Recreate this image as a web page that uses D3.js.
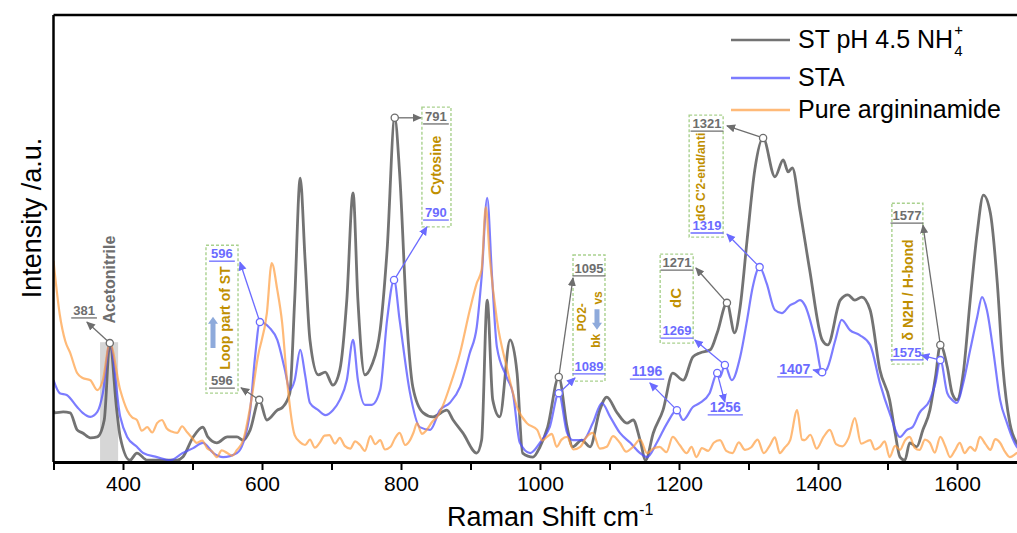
<!DOCTYPE html>
<html>
<head>
<meta charset="utf-8">
<script src="https://cdn.jsdelivr.net/npm/d3@7"></script>
<style>
  body { margin: 0; background: #fff; }
  svg { display: block; font-family: "Liberation Sans", Arial, sans-serif; }
</style>
</head>
<body>
<svg id="chart"></svg>
<script>
// Raman spectra, [shift cm-1, intensity a.u.]
const stSpectrum = [[300,11.5],[302,11.0],[314,11.2],[324,11.0],[334,7.2],[342,6.5],[353,5.4],[363,5.6],[373,9.4],[381,26.6],[391,11.6],[396,5.6],[410,0.4],[420,2.0],[435,0.4],[453,0.4],[478,0.4],[486,1.1],[501,5.6],[515,7.8],[522,5.6],[535,4.3],[550,5.6],[564,5.6],[573,4.9],[583,7.2],[596,13.9],[607,9.4],[622,11.6],[630,12.3],[640,15.4],[647,36.2],[655,63.5],[662,45.2],[669,27.3],[681,19.5],[691,20.1],[702,17.2],[712,20.6],[722,36.2],[731,60.2],[738,36.2],[748,19.5],[758,21.7],[770,29.5],[780,47.4],[791,77.0],[798,64.7],[809,30.2],[817,16.8],[832,11.0],[846,10.1],[866,11.6],[875,9.4],[889,6.5],[909,2.0],[916,4.9],[924,36.2],[932,13.9],[942,10.1],[957,27.3],[967,19.9],[975,2.0],[990,1.1],[1000,3.4],[1011,7.8],[1027,19.0],[1039,7.8],[1047,3.4],[1060,4.9],[1072,3.4],[1086,11.6],[1096,14.5],[1111,11.0],[1125,8.7],[1134,9.4],[1144,4.9],[1152,0.4],[1163,6.5],[1177,11.6],[1191,19.9],[1206,18.3],[1220,23.5],[1230,24.4],[1245,25.1],[1255,28.9],[1269,35.6],[1280,28.9],[1288,34.7],[1298,49.7],[1309,65.3],[1321,72.5],[1338,63.8],[1350,67.6],[1357,64.9],[1363,65.8],[1374,56.4],[1388,43.0],[1406,27.3],[1414,26.2],[1432,36.2],[1443,37.4],[1453,36.2],[1463,36.9],[1475,34.0],[1489,20.6],[1503,13.9],[1511,6.5],[1518,1.1],[1525,0.4],[1532,4.3],[1542,3.4],[1551,7.2],[1561,11.6],[1569,19.0],[1576,26.2],[1586,21.3],[1593,15.4],[1600,13.9],[1609,19.9],[1619,36.2],[1629,51.2],[1638,59.7],[1648,55.7],[1658,40.0],[1666,21.3],[1676,8.7],[1686,4.3],[1699,2.7]];

const staSpectrum = [[300,18.3],[309,15.4],[319,15.0],[334,12.3],[342,11.0],[353,10.1],[363,11.2],[371,15.4],[381,26.6],[396,10.1],[406,5.6],[420,3.4],[429,2.0],[449,1.1],[468,0.4],[486,2.0],[501,3.1],[515,4.3],[530,2.0],[544,1.1],[564,2.0],[573,4.3],[583,11.6],[590,23.5],[597,31.3],[611,30.0],[622,27.3],[633,20.6],[640,16.1],[647,18.3],[655,25.1],[662,19.5],[669,13.2],[681,11.6],[691,10.5],[702,11.6],[712,13.9],[722,18.3],[731,27.3],[738,18.3],[748,12.8],[758,12.8],[770,16.1],[780,31.8],[790,40.7],[798,31.8],[813,15.4],[827,7.8],[842,7.2],[856,11.6],[870,13.2],[885,16.8],[899,24.4],[909,30.2],[916,41.4],[924,59.1],[931,41.4],[938,25.7],[952,19.0],[961,15.4],[971,4.3],[986,2.0],[1000,4.3],[1014,7.8],[1027,15.4],[1039,6.5],[1047,4.9],[1062,4.9],[1076,8.7],[1089,13.2],[1101,10.1],[1115,6.5],[1130,4.3],[1144,2.0],[1154,1.1],[1168,4.3],[1183,8.7],[1197,11.6],[1206,9.4],[1220,12.3],[1230,13.2],[1244,15.4],[1255,19.9],[1259,19.0],[1266,21.7],[1276,18.3],[1288,23.5],[1298,31.8],[1306,39.1],[1316,43.6],[1326,40.0],[1338,34.0],[1348,33.3],[1360,35.1],[1367,35.6],[1374,36.2],[1381,35.1],[1396,27.3],[1406,20.1],[1412,20.6],[1425,27.3],[1434,31.8],[1446,29.5],[1460,28.4],[1475,26.2],[1489,17.7],[1503,11.0],[1518,5.6],[1528,7.2],[1536,7.8],[1546,11.0],[1561,13.9],[1569,17.7],[1576,22.8],[1586,15.4],[1593,13.9],[1600,13.2],[1609,17.7],[1619,25.1],[1629,32.4],[1636,36.9],[1643,34.0],[1652,25.1],[1662,13.9],[1672,8.7],[1681,4.9],[1686,3.4],[1699,2.2]];

const argSpectrum = [[300,45.0],[309,33.0],[317,27.0],[324,24.4],[334,19.9],[342,18.8],[353,18.3],[363,16.1],[371,18.3],[381,26.6],[396,16.1],[406,11.6],[413,10.0],[420,9.4],[427,7.0],[435,7.8],[442,6.6],[449,8.7],[456,9.4],[463,7.5],[470,6.8],[478,6.5],[485,8.0],[492,6.7],[499,5.5],[506,4.3],[514,4.8],[521,3.1],[528,2.4],[535,1.1],[542,2.6],[550,2.0],[557,1.4],[564,2.7],[573,4.9],[583,12.3],[594,23.5],[607,33.3],[614,44.5],[622,38.5],[629,31.1],[636,18.3],[647,6.0],[655,4.4],[662,3.8],[669,5.0],[676,3.2],[683,4.3],[690,5.9],[697,6.0],[705,4.1],[712,5.4],[719,3.6],[727,3.0],[734,4.6],[741,3.8],[748,2.5],[756,5.8],[763,4.0],[770,4.9],[777,2.8],[785,3.4],[791,5.2],[798,6.5],[806,3.8],[813,4.9],[818,6.6],[823,8.7],[830,6.3],[837,7.2],[845,9.0],[852,10.1],[860,12.5],[870,16.8],[885,24.4],[899,34.0],[909,40.0],[916,43.0],[922,57.0],[928,45.2],[938,31.8],[952,21.3],[967,12.3],[981,8.7],[996,7.2],[1003,4.8],[1010,5.6],[1017,6.3],[1024,3.4],[1031,5.0],[1039,5.6],[1048,2.8],[1058,3.4],[1067,5.6],[1076,6.5],[1086,3.0],[1096,3.4],[1105,5.8],[1115,4.3],[1124,2.3],[1134,3.4],[1144,5.0],[1154,2.0],[1163,3.0],[1172,3.4],[1182,2.2],[1191,5.6],[1201,3.8],[1211,2.0],[1218,3.4],[1225,1.1],[1233,3.1],[1242,2.5],[1250,4.3],[1259,4.9],[1268,2.5],[1277,2.0],[1286,4.4],[1295,2.7],[1304,3.3],[1313,5.0],[1322,2.0],[1331,3.8],[1338,5.5],[1345,2.0],[1352,3.2],[1360,4.9],[1370,11.6],[1377,5.0],[1381,4.9],[1389,6.1],[1398,3.0],[1408,5.6],[1417,7.2],[1426,4.0],[1435,3.5],[1444,5.4],[1453,9.8],[1462,4.1],[1475,4.9],[1482,2.8],[1489,3.4],[1496,4.6],[1503,1.1],[1511,3.6],[1518,2.7],[1525,4.8],[1532,5.6],[1539,3.2],[1546,2.7],[1554,5.0],[1561,4.3],[1568,2.1],[1576,5.6],[1583,3.6],[1590,1.1],[1597,2.6],[1604,4.3],[1611,2.0],[1619,3.4],[1626,2.5],[1633,5.6],[1641,4.0],[1648,2.7],[1655,5.1],[1662,4.3],[1669,2.3],[1676,1.1],[1686,2.0],[1699,3.0]];

const seriesNames = ["ST pH 4.5 NH", "STA", "Pure argininamide"];
const xTickValues = d3.range(300, 1701, 100);
const xTickLabels = [400, 600, 800, 1000, 1200, 1400, 1600];

const W = 1017, H = 533;
const svg = d3.select("#chart").attr("width", W).attr("height", H);

const x = d3.scaleLinear().domain([300, 1700]).range([53.5, 1026.5]);
const y = d3.scaleLinear().domain([0, 100]).range([462, 15]);

const GRAY = "#5a5a5a", BLUE = "#5050ff", ORANGE = "#ff9d3f";
const LGRAY = "#6e6e6e", LBLUE = "#6b6bff", GOLD = "#bf8f00", BOXC = "#a9d18e", ICON = "#8eaadb";

// markers for arrows
const defs = svg.append("defs");
[["ag", LGRAY], ["ab", LBLUE]].forEach(([id, c]) => {
  defs.append("marker").attr("id", id).attr("viewBox", "0 -5 10 10")
    .attr("refX", 9).attr("refY", 0).attr("markerWidth", 9).attr("markerHeight", 9)
    .attr("markerUnits", "userSpaceOnUse").attr("orient", "auto")
    .append("path").attr("d", "M0,-4.5L10,0L0,4.5Z").attr("fill", c);
});
defs.append("clipPath").attr("id", "plotclip").append("rect")
  .attr("x", x(300)).attr("y", y(100)).attr("width", x(1700) - x(300)).attr("height", y(0) - y(100));

// acetonitrile band
svg.append("rect").attr("x", x(367)).attr("width", x(393) - x(367))
  .attr("y", y(26.8)).attr("height", y(0) - y(26.8)).attr("fill", "#d6d6d6");

const line = d3.line().x(d => x(d[0])).y(d => y(d[1])).curve(d3.curveMonotoneX);
const curves = svg.append("g").attr("clip-path", "url(#plotclip)");
[[stSpectrum, GRAY, 2.8, 0.85], [staSpectrum, BLUE, 2.2, 0.75], [argSpectrum, ORANGE, 2.2, 0.7]]
  .forEach(([d, c, w, o]) => {
    curves.append("path").datum(d).attr("fill", "none").attr("stroke", c)
      .attr("stroke-width", w).attr("stroke-opacity", o).attr("stroke-linejoin", "round").attr("d", line);
  });

// frame + axis
const xAxis = d3.axisBottom(x).tickValues(xTickValues).tickSize(8).tickSizeOuter(0).tickPadding(6)
  .tickFormat(d => xTickLabels.includes(d) ? d : "");
const gx = svg.append("g").attr("transform", `translate(0,${y(0)})`).call(xAxis);
gx.select(".domain").attr("stroke-width", 3);
gx.selectAll(".tick line").attr("stroke-width", 2);
gx.selectAll(".tick text").attr("font-size", 21).attr("font-family", "Liberation Sans, Arial, sans-serif").attr("fill", "#000");
svg.append("line").attr("x1", x(300)).attr("x2", x(300)).attr("y1", y(100)).attr("y2", y(0))
  .attr("stroke", "#000").attr("stroke-width", 2.5);
svg.append("line").attr("x1", x(300)).attr("x2", x(1700)).attr("y1", y(100)).attr("y2", y(100))
  .attr("stroke", "#000").attr("stroke-width", 2.5);

// axis titles
const xt = svg.append("text").attr("x", 447).attr("y", 526).attr("font-size", 27).attr("fill", "#000");
xt.append("tspan").text("Raman Shift cm");
xt.append("tspan").text("-1").attr("font-size", 16).attr("dy", -11);
svg.append("text").attr("transform", "translate(41,218) rotate(-90)").attr("text-anchor", "middle")
  .attr("font-size", 27).attr("fill", "#000").text("Intensity /a.u.");

// legend
const leg = svg.append("g");
[[GRAY, 40, 0.85], [BLUE, 78, 0.75], [ORANGE, 110, 0.7]].forEach(([c, ly, o], i) => {
  leg.append("line").attr("x1", 731).attr("x2", 790).attr("y1", ly).attr("y2", ly)
    .attr("stroke", c).attr("stroke-width", 2.5).attr("stroke-opacity", o);
  const t = leg.append("text").attr("x", 798).attr("y", ly + 8).attr("font-size", 25).attr("fill", "#000")
    .text(seriesNames[i]);
  if (i === 0) {
    const tw = t.node().getComputedTextLength();
    leg.append("text").attr("x", 798 + tw + 1).attr("y", ly + 16).attr("font-size", 15).text("4");
    leg.append("text").attr("x", 798 + tw + 1).attr("y", ly - 5).attr("font-size", 15).text("+");
  }
});

// annotation helpers
const ann = svg.append("g");
function numLabel(t, xv, yv, c, fs = 13) {
  const el = ann.append("text").attr("x", x(xv)).attr("y", y(yv)).attr("text-anchor", "middle")
    .attr("font-size", fs).attr("font-weight", "bold").attr("fill", c).text(t);
  const w = el.node().getComputedTextLength();
  ann.append("line").attr("x1", x(xv) - w / 2 - 2).attr("x2", x(xv) + w / 2 + 2)
    .attr("y1", y(yv) + 3).attr("y2", y(yv) + 3).attr("stroke", c).attr("stroke-width", 1.3);
}
function rotText(t, xv, yv, c, fs = 14) {
  ann.append("text").attr("transform", `translate(${x(xv)},${y(yv)}) rotate(-90)`)
    .attr("text-anchor", "middle").attr("dy", "0.35em").attr("font-size", fs)
    .attr("font-weight", "bold").attr("fill", c).text(t);
}
function box(x0, x1, y0, y1) {
  ann.append("rect").attr("x", x(x0)).attr("y", y(y0)).attr("width", x(x1) - x(x0))
    .attr("height", y(y1) - y(y0)).attr("fill", "none").attr("stroke", BOXC)
    .attr("stroke-width", 1.4).attr("stroke-dasharray", "3,2");
}
function pointer(series, xv, to, c, mk) {
  const p = series.find(d => d[0] === xv);
  ann.append("line").attr("x1", x(p[0])).attr("y1", y(p[1])).attr("x2", x(to[0])).attr("y2", y(to[1]))
    .attr("stroke", c).attr("stroke-width", 1.3).attr("marker-end", `url(#${mk})`);
  ann.append("circle").attr("cx", x(p[0])).attr("cy", y(p[1])).attr("r", 3.6)
    .attr("fill", "#fff").attr("stroke", c).attr("stroke-width", 1.3);
}
function blockArrow(xv, yFrom, yTo) {
  const px = x(xv), a = y(yFrom), b = y(yTo), dir = Math.sign(b - a);
  const head = b - dir * 7;
  ann.append("path").attr("fill", ICON)
    .attr("d", `M${px - 2.5},${a}L${px - 2.5},${head}L${px - 5},${head}L${px},${b}L${px + 5},${head}L${px + 2.5},${head}L${px + 2.5},${a}Z`);
}

// acetonitrile
rotText("Acetonitrile", 381, 40.8, LGRAY, 16);
numLabel("381", 344, 32.9, LGRAY);
pointer(stSpectrum, 381, [348, 31.3], LGRAY, "ag");

// 596 box
box(519.4, 565.5, 48.5, 15.4);
numLabel("596", 542.4, 45.6, LBLUE);
numLabel("596", 542.4, 17.2, LGRAY);
rotText("Loop part of ST", 547, 32.2, GOLD, 14);
blockArrow(529.5, 25.5, 32.5);
pointer(staSpectrum, 597, [568.3, 44.7], LBLUE, "ab");
pointer(stSpectrum, 596, [569.8, 16.6], LGRAY, "ag");

// 791 box
box(830.1, 871.9, 79.4, 52.6);
numLabel("791", 850.3, 76.3, LGRAY);
rotText("Cytosine", 850, 66.4, GOLD, 14);
numLabel("790", 850.3, 54.8, LBLUE);
pointer(stSpectrum, 791, [828.7, 77.0], LGRAY, "ag");
pointer(staSpectrum, 790, [837.3, 52.6], LBLUE, "ab");

// 1095 box
box(1047.5, 1093.5, 46.3, 18.1);
numLabel("1095", 1070.5, 42.3, LGRAY);
rotText("PO2-", 1060.4, 32.4, GOLD, 12);
rotText("vs", 1082.5, 36.7, GOLD, 12);
rotText("bk", 1081, 27.1, GOLD, 12);
blockArrow(1082, 34.2, 29.6);
numLabel("1089", 1070.5, 20.4, LBLUE);
pointer(stSpectrum, 1027, [1047.5, 41.2], LGRAY, "ag");
pointer(staSpectrum, 1027, [1050.4, 18.8], LBLUE, "ab");

// 1196
numLabel("1196", 1154, 19.2, LBLUE, 14);
pointer(staSpectrum, 1197, [1158, 17.7], LBLUE, "ab");

// 1271 box
box(1172.9, 1220.4, 46.5, 26.6);
numLabel("1271", 1197.1, 43.6, LGRAY);
rotText("dC", 1196, 36.7, GOLD, 15);
numLabel("1269", 1197.1, 28.4, LBLUE);
pointer(stSpectrum, 1269, [1224.3, 43.4], LGRAY, "ag");
pointer(staSpectrum, 1266, [1222.8, 27.3], LBLUE, "ab");

// 1256
numLabel("1256", 1266.6, 11.2, LBLUE, 14);
pointer(staSpectrum, 1255, [1266, 13.4], LBLUE, "ab");

// 1321 box
box(1214.6, 1263.5, 77.6, 50.3);
numLabel("1321", 1240.3, 74.7, LGRAY);
rotText("dG C'2-end/anti", 1231, 63.8, GOLD, 12);
numLabel("1319", 1240.3, 51.9, LBLUE);
pointer(stSpectrum, 1321, [1269, 75.2], LGRAY, "ag");
pointer(staSpectrum, 1316, [1269, 51.0], LBLUE, "ab");

// 1407
numLabel("1407", 1366.6, 19.7, LBLUE, 14);
pointer(staSpectrum, 1406, [1393, 20.6], LBLUE, "ab");

// 1577 box
box(1506.3, 1550.9, 57.9, 21.9);
numLabel("1577", 1528, 54.1, LGRAY);
rotText("δ N2H / H-bond", 1530, 38.5, GOLD, 14);
numLabel("1575", 1528, 23.5, LBLUE);
pointer(stSpectrum, 1576, [1551, 53.0], LGRAY, "ag");
pointer(staSpectrum, 1576, [1548.5, 23.9], LBLUE, "ab");
</script>
</body>
</html>
